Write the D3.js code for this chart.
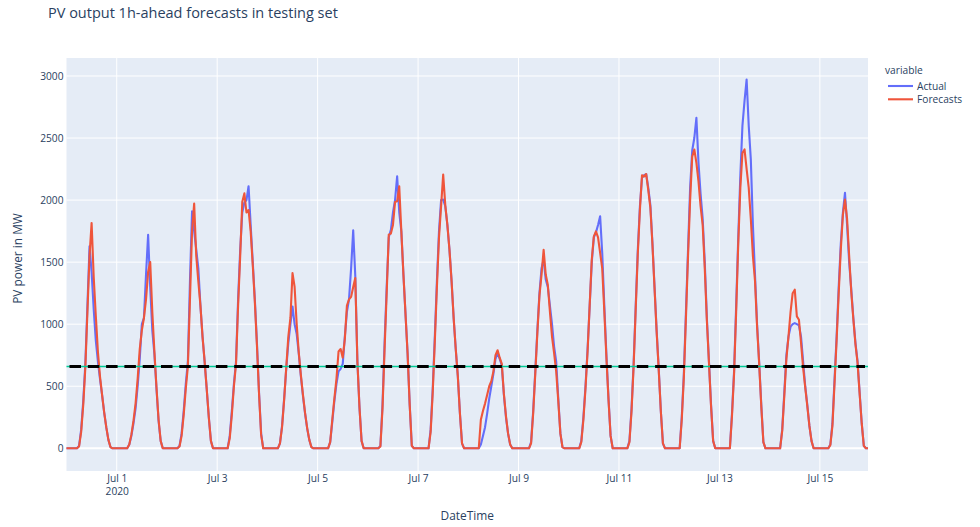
<!DOCTYPE html>
<html>
<head>
<meta charset="utf-8">
<script src="https://cdn.jsdelivr.net/npm/d3@7/dist/d3.min.js"></script>
<style>
  body { margin: 0; background: #fff; }
  svg { display: block; }
  text { font-family: "Open Sans", sans-serif; fill: #2a3f5f; }
</style>
</head>
<body>
<svg id="chart" width="980" height="527"></svg>
<script>
// Hourly PV output (MW), 30 Jun 2020 00:00 – 15 Jul 2020 23:00, one row per day
const actualMW = [
  0,0,0,0,0,0,20,150,380,680,1150,1627,1420,1120,870,700,560,430,290,170,70,10,0,0,
  0,0,0,0,0,0,30,100,200,320,500,720,1000,1050,1400,1720,1300,950,760,480,220,60,0,0,
  0,0,0,0,0,0,20,120,300,520,700,1350,1910,1750,1600,1450,1150,900,700,480,250,60,0,0,
  0,0,0,0,0,0,100,300,520,700,1200,1600,1900,1980,2000,2112,1800,1500,1200,850,450,120,0,0,
  0,0,0,0,0,0,40,180,400,640,850,1000,1143,1000,920,760,580,420,280,160,70,10,0,0,
  0,0,0,0,0,0,50,210,380,520,620,640,680,900,1100,1200,1450,1757,1385,700,330,60,0,0,
  0,0,0,0,0,0,20,350,850,1300,1700,1760,1900,2000,2192,1900,1750,1400,1080,760,350,20,0,0,
  0,0,0,0,0,0,150,480,900,1350,1750,2000,2004,1950,1800,1600,1350,1050,800,580,280,40,0,0,
  0,0,0,0,0,0,30,100,170,280,400,500,600,720,767,720,670,430,250,120,30,0,0,0,
  0,0,0,0,0,0,50,300,620,950,1250,1450,1520,1360,1300,1150,1000,820,700,400,120,10,0,0,
  0,0,0,0,0,0,60,250,500,800,1150,1500,1700,1740,1800,1870,1574,1150,750,400,100,0,0,0,
  0,0,0,0,0,60,320,680,1150,1600,1950,2180,2200,2210,2100,1960,1650,1300,950,640,300,40,0,0,
  0,0,0,0,0,0,250,600,1100,1600,2100,2400,2500,2663,2300,2050,1850,1500,1050,700,350,60,0,0,
  0,0,0,0,0,0,280,620,1150,1700,2200,2600,2800,2972,2600,2330,1800,1400,1000,690,350,50,0,0,
  0,0,0,0,0,0,150,450,750,900,980,1000,1009,1000,990,900,700,500,350,180,60,0,0,0,
  0,0,0,0,0,30,200,550,900,1300,1650,1900,2058,1800,1500,1280,1050,850,700,450,200,20,0,0
];

const forecastMW = [
  0,0,0,0,0,0,15,130,350,650,1100,1550,1816,1380,1070,780,580,430,290,170,70,10,0,0,
  0,0,0,0,0,0,30,110,220,360,560,800,950,1050,1200,1420,1500,1100,780,490,230,60,0,0,
  0,0,0,0,0,0,15,100,270,480,660,1200,1750,1972,1550,1345,1150,900,700,480,250,60,0,0,
  0,0,0,0,0,0,80,270,500,680,1150,1550,1986,2054,1900,1920,1750,1480,1180,830,440,110,0,0,
  0,0,0,0,0,0,40,170,390,650,900,1050,1412,1300,1000,770,590,430,285,165,70,10,0,0,
  0,0,0,0,0,0,50,230,400,560,780,800,730,880,1150,1200,1220,1300,1372,700,330,60,0,0,
  0,0,0,0,0,0,15,320,800,1250,1722,1730,1800,1985,1990,2112,1750,1400,1080,760,350,20,0,0,
  0,0,0,0,0,0,130,450,860,1300,1700,1950,2206,1960,1800,1600,1350,1050,800,580,280,40,0,0,
  0,0,0,0,0,0,230,300,360,430,500,540,620,750,790,730,680,440,260,120,30,0,0,0,
  0,0,0,0,0,0,40,280,600,930,1230,1400,1600,1400,1318,1100,900,767,620,380,120,10,0,0,
  0,0,0,0,0,0,50,230,480,780,1150,1520,1708,1748,1700,1574,1450,1100,730,390,100,0,0,0,
  0,0,0,0,0,50,300,660,1120,1570,1920,2200,2190,2210,2080,1940,1640,1290,940,630,300,40,0,0,
  0,0,0,0,0,0,230,570,1050,1550,2000,2350,2408,2300,2150,1950,1800,1450,1030,690,340,60,0,0,
  0,0,0,0,0,0,260,600,1100,1650,2100,2380,2408,2250,2100,1850,1550,1350,980,680,340,50,0,0,
  0,0,0,0,0,0,140,420,720,900,1100,1250,1278,1063,1036,850,650,490,340,180,60,0,0,0,
  0,0,0,0,0,25,180,520,870,1250,1600,1880,2004,1850,1550,1260,1040,840,690,440,200,20,0,0
];

const startUTC = Date.UTC(2020, 5, 30, 0);
const thresholdMW = 660;
const yTickValues = [0, 500, 1000, 1500, 2000, 2500, 3000];
const xTickDates = ["2020-07-01","2020-07-03","2020-07-05","2020-07-07","2020-07-09","2020-07-11","2020-07-13","2020-07-15"];
const xTickLabels = ["Jul 1","Jul 3","Jul 5","Jul 7","Jul 9","Jul 11","Jul 13","Jul 15"];
const seriesNames = ["Actual", "Forecasts"];
const seriesColors = ["#636efa", "#ef553b"];

const HOUR = 3600 * 1000;
const times = actualMW.map((_, i) => new Date(startUTC + i * HOUR));

const svg = d3.select("#chart");
const plot = { left: 66.5, right: 868, top: 58, bottom: 471 };

const x = d3.scaleUtc()
  .domain([times[0], times[times.length - 1]])
  .range([plot.left, plot.right]);
const y = d3.scaleLinear()
  .domain([-183, 3145])
  .range([plot.bottom, plot.top]);

// plot background
svg.append("rect")
  .attr("x", plot.left).attr("y", plot.top)
  .attr("width", plot.right - plot.left).attr("height", plot.bottom - plot.top)
  .attr("fill", "#e5ecf6");

// grid
const xTicks = xTickDates.map(s => new Date(s + "T00:00:00Z"));
svg.append("g").attr("class", "xgrid")
  .selectAll("line").data(xTicks).join("line")
  .attr("x1", d => x(d)).attr("x2", d => x(d))
  .attr("y1", plot.top).attr("y2", plot.bottom)
  .attr("stroke", "#fff").attr("stroke-width", 1);
svg.append("g").attr("class", "ygrid")
  .selectAll("line").data(yTickValues).join("line")
  .attr("x1", plot.left).attr("x2", plot.right)
  .attr("y1", d => y(d)).attr("y2", d => y(d))
  .attr("stroke", "#fff").attr("stroke-width", d => d === 0 ? 2 : 1);

// axes
const yAxis = svg.append("g")
  .attr("transform", `translate(${plot.left},0)`)
  .call(d3.axisLeft(y).tickValues(yTickValues).tickSize(0).tickPadding(3).tickFormat(d3.format("d")));
yAxis.select(".domain").remove();
yAxis.selectAll("text").attr("font-size", 10.2).style("fill", "#2a3f5f");

const xAxis = svg.append("g")
  .attr("transform", `translate(0,${plot.bottom})`)
  .call(d3.axisBottom(x).tickValues(xTicks).tickSize(0).tickPadding(4)
    .tickFormat((d, i) => xTickLabels[i]));
xAxis.select(".domain").remove();
xAxis.selectAll("text").attr("font-size", 10.2).style("fill", "#2a3f5f");
xAxis.select(".tick text")
  .append("tspan").attr("x", 0).attr("dy", "1.25em").text("2020");

// series lines
const line = d3.line()
  .x((d, i) => x(times[i]))
  .y(d => y(d));
const lines = svg.append("g").attr("class", "series");
[actualMW, forecastMW].forEach((vals, k) => {
  lines.append("path")
    .datum(vals)
    .attr("d", line)
    .attr("fill", "none")
    .attr("stroke", seriesColors[k])
    .attr("stroke-width", 2.1)
    .attr("stroke-linejoin", "round");
});

// threshold line
svg.append("line")
  .attr("x1", plot.left).attr("x2", plot.right)
  .attr("y1", y(thresholdMW)).attr("y2", y(thresholdMW))
  .attr("stroke", "#00cc96").attr("stroke-width", 1.5);
svg.append("line")
  .attr("x1", plot.left + 3).attr("x2", plot.right - 3)
  .attr("y1", y(thresholdMW)).attr("y2", y(thresholdMW))
  .attr("stroke", "#000").attr("stroke-width", 3)
  .attr("stroke-dasharray", "11.5,6.8");

// titles
svg.append("text")
  .attr("x", 48).attr("y", 18)
  .attr("font-size", 14.5)
  .text("PV output 1h-ahead forecasts in testing set");
svg.append("text")
  .attr("transform", `translate(22,${(plot.top + plot.bottom) / 2 - 6}) rotate(-90)`)
  .attr("text-anchor", "middle")
  .attr("font-size", 11.9)
  .text("PV power in MW");
svg.append("text")
  .attr("x", (plot.left + plot.right) / 2).attr("y", 520)
  .attr("text-anchor", "middle")
  .attr("font-size", 11.9)
  .text("DateTime");

// legend
const legend = svg.append("g").attr("transform", "translate(885,0)");
legend.append("text").attr("x", 0).attr("y", 73.5).attr("font-size", 10.2).text("variable");
seriesNames.forEach((name, k) => {
  const cy = 86 + k * 13.3;
  legend.append("line")
    .attr("x1", 3).attr("x2", 28).attr("y1", cy).attr("y2", cy)
    .attr("stroke", seriesColors[k]).attr("stroke-width", 2.1);
  legend.append("text").attr("x", 32).attr("y", cy + 3.6)
    .attr("font-size", 10.2).text(name);
});
</script>
</body>
</html>
